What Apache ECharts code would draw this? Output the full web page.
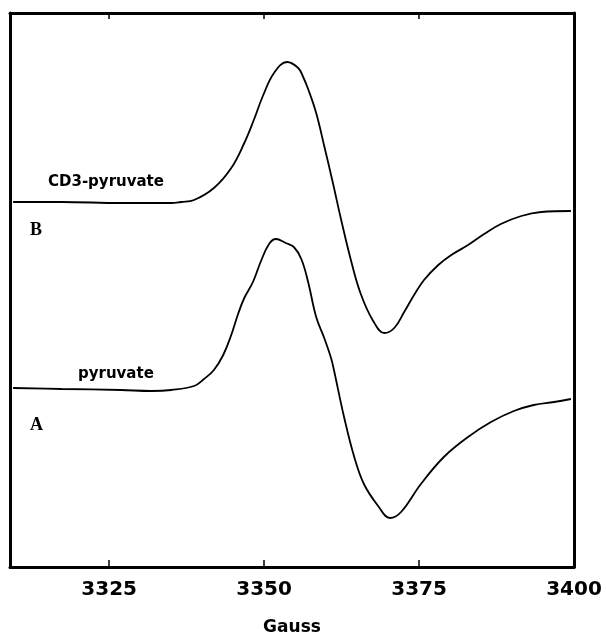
<!DOCTYPE html>
<html>
<head>
<meta charset="utf-8">
<script src="https://cdn.jsdelivr.net/npm/echarts@6/dist/echarts.min.js"></script>
<style>
  html, body { margin: 0; padding: 0; background: #fff; }
  #main { width: 606px; height: 642px; }
</style>
</head>
<body>
<div id="main"></div>
<script>
// field (Gauss) and signal (arbitrary units)
const gaussB = [3309.5, 3317.3, 3326.9, 3331.8, 3335.0, 3336.6, 3338.7, 3341.9, 3344.7, 3346.8,
  3348.4, 3349.8, 3351.6, 3353.7, 3355.5, 3356.3, 3357.1, 3358.4, 3359.7, 3361.1, 3362.4,
  3364.0, 3365.6, 3367.6, 3369.4, 3371.0, 3372.6, 3374.2, 3375.8, 3378.1, 3380.2,
  3382.9, 3385.5, 3388.2, 3391.5, 3394.7, 3399.5]
const signalB = [365, 365, 364, 364, 364, 365, 367, 379, 399, 424,
  448, 471, 494, 505, 499, 490, 478, 454, 421, 384, 348,
  307, 273, 246, 234, 239, 255, 272, 287, 302, 312,
  322, 333, 343, 351, 355, 356]

const gaussA = [3309.5, 3317.3, 3326.9, 3331.8, 3335.0, 3338.7, 3340.3, 3341.9, 3343.4, 3344.7,
  3345.8, 3346.8, 3348.2, 3349.5, 3350.8, 3351.9, 3353.5, 3354.8, 3356.0, 3357.1,
  3358.4, 3359.7, 3360.8, 3361.3, 3362.9, 3364.5, 3366.1, 3368.4, 3370.3, 3372.1,
  3375.3, 3379.0, 3382.9, 3386.6, 3390.3, 3393.5, 3396.8, 3399.5]
const signalA = [179, 178, 177, 176, 177, 181, 188, 197, 212, 232,
  253, 269, 285, 306, 323, 328, 324, 320, 308, 285,
  250, 229, 209, 196, 150, 111, 83, 61, 49, 55,
  83, 110, 130, 145, 156, 162, 165, 168]

const tickValues = [3325, 3350, 3375]
const labelValues = [3325, 3350, 3375, 3400]

function pairs(xs, ys) {
  let out = []
  for (let i = 0; i < xs.length; i++) {
    out.push([xs[i], ys[i]])
  }
  return out
}

const chart = echarts.init(document.getElementById('main'), null, { renderer: 'canvas' })

const frame = { show: true, onZero: false, lineStyle: { color: '#000', width: 3 } }

chart.setOption({
  backgroundColor: '#fff',
  animation: false,
  grid: { left: 10, right: 32, top: 13, bottom: 75 },
  xAxis: [
    {
      type: 'value', position: 'bottom', min: 3309, max: 3400,
      axisLine: frame,
      axisTick: { show: true, inside: true, length: 7, customValues: tickValues, lineStyle: { color: '#000', width: 1.5 } },
      axisLabel: {
        customValues: labelValues, margin: 13, color: '#000',
        fontFamily: 'DejaVu Sans', fontWeight: 'bold', fontSize: 20,
        formatter: v => String(v)
      },
      splitLine: { show: false },
      name: 'Gauss', nameLocation: 'middle', nameGap: 52,
      nameTextStyle: { color: '#000', fontFamily: 'DejaVu Sans', fontWeight: 'bold', fontSize: 17 }
    },
    {
      // top edge of the box, ticks only
      type: 'value', position: 'top', min: 3309, max: 3400,
      axisLine: frame,
      axisTick: { show: true, inside: true, length: 6, customValues: tickValues, lineStyle: { color: '#000', width: 1.5 } },
      axisLabel: { show: false },
      splitLine: { show: false }
    }
  ],
  yAxis: [
    {
      type: 'value', position: 'left', min: 0, max: 554,
      axisLine: frame, axisTick: { show: false }, axisLabel: { show: false }, splitLine: { show: false }
    },
    {
      type: 'value', position: 'right', min: 0, max: 554,
      axisLine: frame, axisTick: { show: false }, axisLabel: { show: false }, splitLine: { show: false }
    }
  ],
  series: [
    {
      name: 'CD3-pyruvate', type: 'line', smooth: 0.4, showSymbol: false,
      data: pairs(gaussB, signalB),
      lineStyle: { color: '#000', width: 1.8 }
    },
    {
      name: 'pyruvate', type: 'line', smooth: 0.4, showSymbol: false,
      data: pairs(gaussA, signalA),
      lineStyle: { color: '#000', width: 1.8 }
    }
  ],
  graphic: [
    { type: 'text', left: 48, top: 175, style: { text: 'CD3-pyruvate', fill: '#000', font: 'bold 15px "DejaVu Sans"' } },
    { type: 'text', left: 30, top: 221, style: { text: 'B', fill: '#000', font: 'bold 18px "Liberation Serif"' } },
    { type: 'text', left: 78, top: 367, style: { text: 'pyruvate', fill: '#000', font: 'bold 15px "DejaVu Sans"' } },
    { type: 'text', left: 30, top: 416, style: { text: 'A', fill: '#000', font: 'bold 18px "Liberation Serif"' } }
  ]
})
</script>
</body>
</html>
